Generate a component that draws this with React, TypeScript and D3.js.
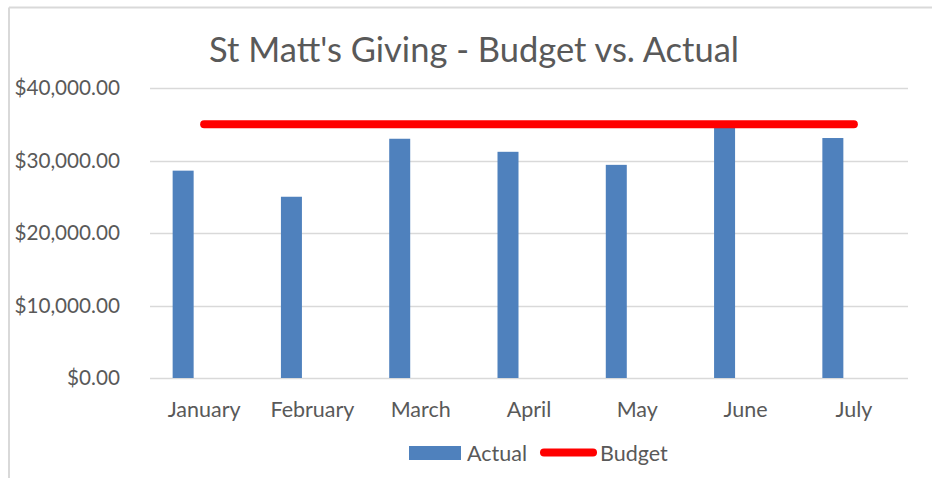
import { useEffect, useRef } from "react";
import * as d3 from "d3";

// données
const months = ["January", "February", "March", "April", "May", "June", "July"];
const actual = [28600, 25000, 33000, 31200, 29400, 34600, 33100];
const budget = [35000, 35000, 35000, 35000, 35000, 35000, 35000];
const yTicks = [0, 10000, 20000, 30000, 40000];
const seriesSlots = ["Actual", "Budget", "Other"];

export default function App() {
  const ref = useRef<SVGSVGElement>(null);

  useEffect(() => {
    const width = 932;
    const height = 478;
    const margin = { top: 88, right: 24, bottom: 100, left: 150 };
    const font = "Lato, 'Open Sans', sans-serif";
    const textColor = "#595959";

    const svg = d3.select(ref.current);
    svg.selectAll("*").remove();

    // cadre du graphique (seuls le haut et la gauche sont visibles)
    svg.append("rect").attr("width", width).attr("height", height).attr("fill", "#fff");
    svg.append("line").attr("x1", 9).attr("x2", width).attr("y1", 7.5).attr("y2", 7.5)
      .attr("stroke", "#d9d9d9").attr("stroke-width", 2);
    svg.append("line").attr("x1", 9).attr("x2", 9).attr("y1", 7.5).attr("y2", height)
      .attr("stroke", "#d9d9d9").attr("stroke-width", 2);

    const x = d3.scaleBand<string>()
      .domain(months)
      .range([margin.left, width - margin.right])
      .paddingInner(0)
      .paddingOuter(0);

    // 3 emplacements par catégorie, la colonne "Actual" occupe le premier
    const groupWidth = 63;
    const x1 = d3.scaleBand<string>().domain(seriesSlots).range([0, groupWidth]);

    const y = d3.scaleLinear().domain([0, 40000]).range([height - margin.bottom, margin.top]);

    const fmt = (v: number) => "$" + d3.format(",.2f")(v);

    // grille
    svg.append("g")
      .selectAll("line")
      .data(yTicks)
      .join("line")
      .attr("x1", margin.left)
      .attr("x2", width - margin.right)
      .attr("y1", (d) => Math.round(y(d)) + 0.5)
      .attr("y2", (d) => Math.round(y(d)) + 0.5)
      .attr("stroke", "#d9d9d9")
      .attr("stroke-width", 1.5);

    // labels axe Y
    svg.append("g")
      .selectAll("text")
      .data(yTicks)
      .join("text")
      .attr("x", 120)
      .attr("y", (d) => y(d))
      .attr("dy", "0.35em")
      .attr("text-anchor", "end")
      .attr("font-family", font)
      .attr("font-size", 20.7)
      .attr("fill", textColor)
      .text(fmt);

    // labels axe X
    svg.append("g")
      .selectAll("text")
      .data(months)
      .join("text")
      .attr("x", (d) => (x(d) as number) + x.bandwidth() / 2)
      .attr("y", 417)
      .attr("text-anchor", "middle")
      .attr("font-family", font)
      .attr("font-size", 21.5)
      .attr("fill", textColor)
      .text((d) => d);

    // barres
    svg.append("g")
      .selectAll("rect")
      .data(actual)
      .join("rect")
      .attr("x", (d, i) => (x(months[i]) as number) + (x.bandwidth() - groupWidth) / 2 + (x1("Actual") as number))
      .attr("y", (d) => y(d))
      .attr("width", x1.bandwidth())
      .attr("height", (d) => y(0) - y(d))
      .attr("fill", "#4f81bd");

    // ligne budget
    const line = d3.line<number>()
      .x((d, i) => (x(months[i]) as number) + x.bandwidth() / 2)
      .y((d) => y(d));

    svg.append("path")
      .datum(budget)
      .attr("d", line)
      .attr("fill", "none")
      .attr("stroke", "#ff0000")
      .attr("stroke-width", 8)
      .attr("stroke-linecap", "round");

    // titre
    svg.append("text")
      .attr("x", 474)
      .attr("y", 62)
      .attr("text-anchor", "middle")
      .attr("font-family", font)
      .attr("font-size", 34.5)
      .attr("fill", textColor)
      .text("St Matt's Giving - Budget vs. Actual");

    // légende
    const legend = svg.append("g").attr("font-family", font).attr("font-size", 21.5).attr("fill", textColor);
    legend.append("rect").attr("x", 409).attr("y", 446).attr("width", 52).attr("height", 14).attr("fill", "#4f81bd");
    legend.append("text").attr("x", 467).attr("y", 461).text("Actual");
    legend.append("line").attr("x1", 544).attr("x2", 593).attr("y1", 452.5).attr("y2", 452.5)
      .attr("stroke", "#ff0000").attr("stroke-width", 8).attr("stroke-linecap", "round");
    legend.append("text").attr("x", 600).attr("y", 461).text("Budget");
  }, []);

  return (
    <svg
      ref={ref}
      width={932}
      height={478}
      style={{ position: "absolute", left: 0, top: 0 }}
    />
  );
}
